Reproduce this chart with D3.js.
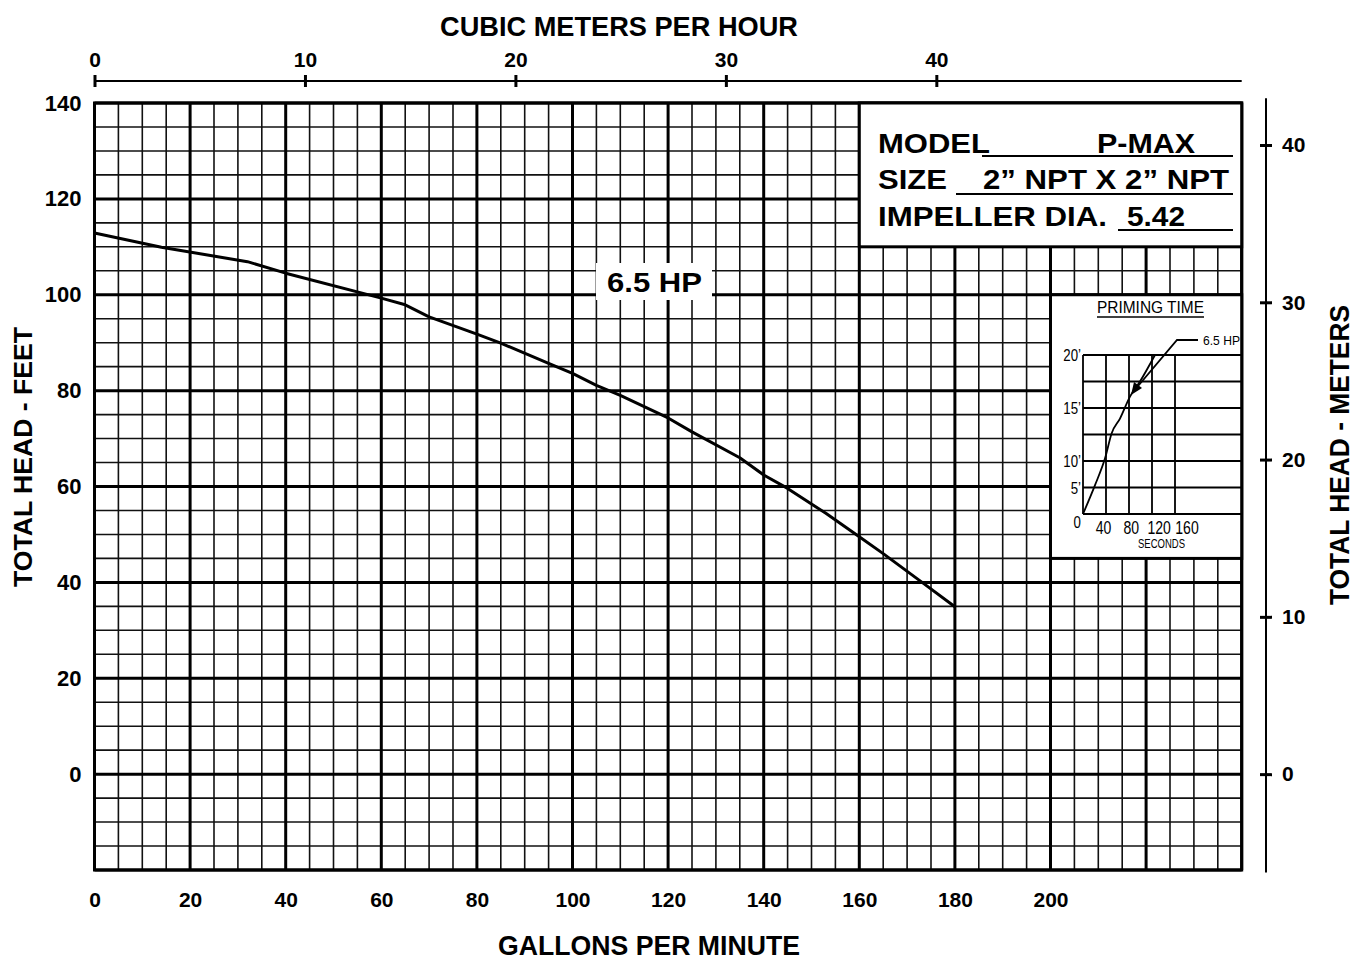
<!DOCTYPE html>
<html><head><meta charset="utf-8">
<script src="https://cdn.jsdelivr.net/npm/d3@7"></script>
<style>body{margin:0;background:#fff}svg{display:block}</style>
</head><body>
<svg id="c" width="1354" height="960"></svg>
<script>
// ---------- data ----------
const gpmTicks   = [0,20,40,60,80,100,120,140,160,180,200];
const feetTicks  = [0,20,40,60,80,100,120,140];
const m3hTicks   = [0,10,20,30,40];
const meterTicks = [0,10,20,30,40];
const curveGpm  = [0,14,32,40,60,65,70,80,85,95,100,105,110,120,125,135,140,145,153,160,165,173,180];
const curveFeet = [112.9,109.9,106.9,104.5,99.3,97.9,95.4,91.8,89.9,85.7,83.6,81.1,79.0,74.3,71.4,66.0,62.4,59.6,54.4,49.5,46.0,40.1,34.9];
const primeSec = [0,20.9,38.3,49.9,64.3,81.7,99.1,125.2];
const primeLvl = [0,1.09,2.1,3.05,3.6,4.43,5.0,6.0];
const primeSecTicks = [40,80,120,160];
const primeLvlTicks = [1,2,4,6];
const primeLvlLabels = ["5’","10’","15’","20’"];
const modelName = "P-MAX", sizeText = "2” NPT X 2” NPT", impellerDia = "5.42", hpLabel = "6.5 HP";
const GPM_PER_M3H = 4.40287, FT_PER_M = 3.28084;

// ---------- setup ----------
const svg = d3.select("#c");
const BOLD = "'Liberation Sans', Arial, Helvetica, sans-serif";
const NARROW = "'Liberation Sans', Arial, sans-serif";
const x = d3.scaleLinear().domain([0,240]).range([94.5,1241.7]);
const y = d3.scaleLinear().domain([-20,140]).range([870,103]);
const xTop = d3.scaleLinear().domain([0,240/GPM_PER_M3H]).range(x.range());
const yM = d3.scaleLinear().domain([-20/FT_PER_M,140/FT_PER_M]).range(y.range());

// grid
const g = svg.append("g");
const minorX = d3.range(0,241,5).filter(v=>v%20!==0);
const minorY = d3.range(-20,141,5).filter(v=>v%20!==0);
const majorX = d3.range(0,241,20);
const majorY = d3.range(-20,141,20);
g.selectAll(".mx").data(minorX).join("line").attr("x1",d=>x(d)).attr("x2",d=>x(d)).attr("y1",y(140)).attr("y2",y(-20)).attr("stroke","#111").attr("stroke-width",1.6);
g.selectAll(".my").data(minorY).join("line").attr("y1",d=>y(d)).attr("y2",d=>y(d)).attr("x1",x(0)).attr("x2",x(240)).attr("stroke","#111").attr("stroke-width",1.6);
g.selectAll(".Mx").data(majorX).join("line").attr("x1",d=>x(d)).attr("x2",d=>x(d)).attr("y1",y(140)).attr("y2",y(-20)).attr("stroke","#000").attr("stroke-width",3);
g.selectAll(".My").data(majorY).join("line").attr("y1",d=>y(d)).attr("y2",d=>y(d)).attr("x1",x(0)).attr("x2",x(240)).attr("stroke","#000").attr("stroke-width",3);
svg.append("rect").attr("x",x(0)).attr("y",y(140)).attr("width",x(240)-x(0)).attr("height",y(-20)-y(140)).attr("fill","none").attr("stroke","#000").attr("stroke-width",3);

// bottom axis labels
const ax = svg.append("g").attr("transform",`translate(0,${y(-20)})`).call(d3.axisBottom(x).tickValues(gpmTicks).tickSize(0).tickPadding(22));
ax.select(".domain").remove();
ax.selectAll("text").attr("font-family",BOLD).attr("font-weight","bold").attr("font-size",21).attr("fill","#000");
// left axis labels
const ay = svg.append("g").attr("transform",`translate(${x(0)},0)`).call(d3.axisLeft(y).tickValues(feetTicks).tickSize(0).tickPadding(13));
ay.select(".domain").remove();
ay.selectAll("text").attr("font-family",BOLD).attr("font-weight","bold").attr("font-size",22).attr("fill","#000");

// top axis (m3/h)
const topY = 81;
svg.append("line").attr("x1",x(0)).attr("x2",x(240)).attr("y1",topY).attr("y2",topY).attr("stroke","#000").attr("stroke-width",2);
const at = svg.append("g").attr("transform",`translate(0,${topY})`).call(d3.axisTop(xTop).tickValues(m3hTicks).tickSize(6).tickPadding(8));
at.select(".domain").remove();
at.selectAll(".tick line").attr("y2",6).attr("y1",-6).attr("stroke-width",3).attr("stroke","#000");
at.selectAll("text").attr("font-family",BOLD).attr("font-weight","bold").attr("font-size",21).attr("fill","#000").attr("dy","0");

// right axis (meters)
const rX = 1266;
svg.append("line").attr("x1",rX).attr("x2",rX).attr("y1",y(141)).attr("y2",y(-20.5)).attr("stroke","#000").attr("stroke-width",2);
const ar = svg.append("g").attr("transform",`translate(${rX},0)`).call(d3.axisRight(yM).tickValues(meterTicks).tickSize(6).tickPadding(10));
ar.select(".domain").remove();
ar.selectAll(".tick line").attr("x1",-6).attr("x2",6).attr("stroke-width",3).attr("stroke","#000");
ar.selectAll("text").attr("font-family",BOLD).attr("font-weight","bold").attr("font-size",21).attr("fill","#000");

// axis titles
function btext(t,px,py,size,len,rot){
  const e = svg.append("text").attr("font-family",BOLD).attr("font-weight","bold").attr("font-size",size).attr("text-anchor","middle").attr("fill","#000").text(t);
  if(len) e.attr("textLength",len).attr("lengthAdjust","spacingAndGlyphs");
  if(rot) e.attr("transform",`translate(${px},${py}) rotate(-90)`); else e.attr("x",px).attr("y",py);
  return e;
}
btext("CUBIC METERS PER HOUR",619,36,28,358);
btext("GALLONS PER MINUTE",649,955,27,302);
btext("TOTAL HEAD - FEET",32,457,26,260,true);
btext("TOTAL HEAD - METERS",1349,455,27,300,true);

// info box
svg.append("rect").attr("x",x(160)).attr("y",y(140)).attr("width",x(240)-x(160)).attr("height",y(110)-y(140)).attr("fill","#fff").attr("stroke","#000").attr("stroke-width",3);
function itext(t,px,py,len){
  return svg.append("text").attr("x",px).attr("y",py).attr("font-family",BOLD).attr("font-weight","bold").attr("font-size",28).attr("fill","#000").attr("textLength",len).attr("lengthAdjust","spacingAndGlyphs").text(t);
}
itext("MODEL",878,153,112);
itext(modelName,1097,153,98);
itext("SIZE",878,189,69);
itext(sizeText,983,189,246);
itext("IMPELLER DIA.",878,226,229);
itext(impellerDia,1127,226,58);
[[982,156],[956,194],[1118,230]].forEach(([x1,yy])=>svg.append("line").attr("x1",x1).attr("x2",1233).attr("y1",yy).attr("y2",yy).attr("stroke","#000").attr("stroke-width",2));

// pump curve
const line = d3.line().x(d=>x(d[0])).y(d=>y(d[1]));
svg.append("path").datum(curveGpm.map((v,i)=>[v,curveFeet[i]])).attr("d",line).attr("fill","none").attr("stroke","#000").attr("stroke-width",3).attr("stroke-linejoin","round");

// HP label
svg.append("rect").attr("x",596).attr("y",263).attr("width",116).attr("height",37).attr("fill","#fff");
svg.append("text").attr("x",607).attr("y",292).attr("font-family",BOLD).attr("font-weight","bold").attr("font-size",28).attr("textLength",95).attr("lengthAdjust","spacingAndGlyphs").text(hpLabel);

// priming inset
svg.append("rect").attr("x",x(200)).attr("y",y(100)).attr("width",x(240)-x(200)).attr("height",y(45)-y(100)).attr("fill","#fff").attr("stroke","#000").attr("stroke-width",3);
const sx = d3.scaleLinear().domain([0,160]).range([1083,1175]);
const sy = d3.scaleLinear().domain([0,6]).range([514,355]);
const ig = svg.append("g");
ig.selectAll(".ih").data(d3.range(0,7)).join("line").attr("x1",sx(0)).attr("x2",x(240)).attr("y1",d=>sy(d)).attr("y2",d=>sy(d)).attr("stroke","#000").attr("stroke-width",1.8);
ig.selectAll(".iv").data([0].concat(primeSecTicks)).join("line").attr("x1",d=>sx(d)).attr("x2",d=>sx(d)).attr("y1",sy(0)).attr("y2",sy(6)).attr("stroke","#000").attr("stroke-width",1.8);
const pline = d3.line().x(d=>sx(d[0])).y(d=>sy(d[1])).curve(d3.curveMonotoneX);
ig.append("path").datum(primeSec.map((v,i)=>[v,primeLvl[i]])).attr("d",pline).attr("fill","none").attr("stroke","#000").attr("stroke-width",1.8);
// narrow labels (horizontally compressed)
function ntext(t,px,py,size,anchor,k){
  return ig.append("text").attr("transform",`translate(${px},${py}) scale(${k||0.78},1)`).attr("text-anchor",anchor||"start").attr("font-family",NARROW).attr("font-size",size).attr("fill","#000").text(t);
}
const lblX = d3.scaleLinear().domain([40,160]).range([1103.5,1187]);
primeSecTicks.forEach(d=>ntext(d,lblX(d),534,18,"middle"));
primeLvlTicks.forEach((d,i)=>ntext(primeLvlLabels[i],1081,sy(d)+6,17,"end"));
ntext("0",1081,528,17,"end");
ig.append("text").attr("x",1150.5).attr("y",313).attr("text-anchor","middle").attr("font-family",NARROW).attr("font-size",16).attr("textLength",107).attr("lengthAdjust","spacingAndGlyphs").text("PRIMING TIME");
ig.append("line").attr("x1",1097).attr("x2",1204).attr("y1",317).attr("y2",317).attr("stroke","#000").attr("stroke-width",1.5);
ig.append("text").attr("x",1161.5).attr("y",548).attr("text-anchor","middle").attr("font-family",NARROW).attr("font-size",13).attr("textLength",47).attr("lengthAdjust","spacingAndGlyphs").text("SECONDS");
ig.append("text").attr("x",1203).attr("y",345).attr("font-family",NARROW).attr("font-size",13).attr("textLength",37).attr("lengthAdjust","spacingAndGlyphs").text(hpLabel);
ig.append("path").attr("d","M1198,340 L1177,340 L1133,392").attr("fill","none").attr("stroke","#000").attr("stroke-width",1.8);
ig.append("path").attr("d","M1131,395 L1134,382 L1142,388 Z").attr("fill","#000");
</script>
</body></html>
